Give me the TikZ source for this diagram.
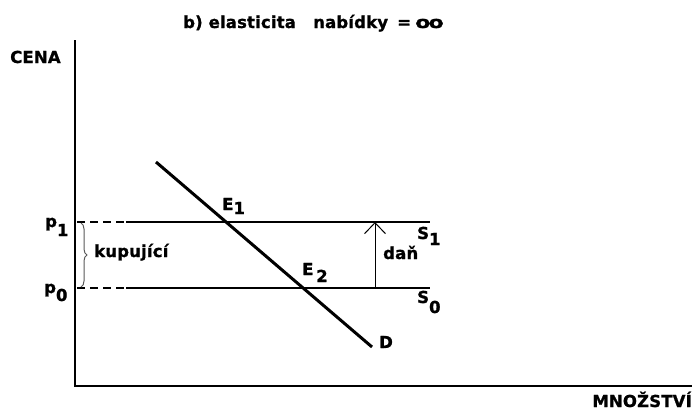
\documentclass[tikz,border=0pt]{standalone}
\usepackage{fontspec}
\setmainfont{DejaVu Sans}
\usetikzlibrary{arrows.meta,decorations.pathreplacing}
\newcommand{\lowr}[2]{\raisebox{-#1pt}{#2}}
\begin{document}
\begin{tikzpicture}[x=1pt,y=-1pt,
  lbl/.style={font=\fontsize{16.5}{18}\selectfont\bfseries\addfontfeature{LetterSpace=1,FakeBold=1}, inner sep=0pt},
  axisline/.style={line width=2.5pt},
  supply/.style={line width=2pt},
  dashpart/.style={line width=2pt, dash pattern=on 8pt off 5pt},
  demand/.style={line width=3pt}]
\fill[white] (0,0) rectangle (696,410);
\useasboundingbox (0,0) rectangle (696,410);
% axes
\coordinate (ytop) at (75,40);
\coordinate (orig) at (75,386);
\coordinate (xend) at (692,386);
\draw[axisline] (ytop) -- (orig) -- (xend);
% supply lines
\coordinate (p1a) at (77,222);
\coordinate (p1b) at (126,222);
\coordinate (s1e) at (430,222);
\coordinate (p0a) at (77,288);
\coordinate (p0b) at (126,288);
\coordinate (s0e) at (430,288);
\draw[dashpart] (p1a) -- (p1b);
\draw[supply] (p1b) -- (s1e);
\draw[dashpart] (p0a) -- (p0b);
\draw[supply] (p0b) -- (s0e);
% demand
\coordinate (dtop) at (156,162);
\coordinate (dbot) at (372,347);
\draw[demand] (dtop) -- (dbot);
% tax arrow
\coordinate (tb) at (375,288);
\coordinate (tt) at (375,222);
\draw[line width=1pt, -{Straight Barb[length=11pt,width=21pt]}] (tb) -- (tt);
% brace
\coordinate (bt) at (81,223);
\coordinate (bb) at (81,287);
\draw[black!65, line width=1pt, decorate, decoration={brace, amplitude=6pt}] (bt) -- (bb);
% labels
\node[lbl, anchor=base west] (title1) at (183,28) {b) elasticita};
\node[lbl, anchor=base west] (title2) at (313,28) {nabídky};
\node[lbl, anchor=base west] (title3) at (397,28) {=};
\node[lbl, anchor=base west] (title4) at (415,28) {\scalebox{1.35}[1]{o\kern-1.5pt o}};
\node[lbl, anchor=base west] (cena) at (10,63) {CENA};
\node[lbl, anchor=base east] (mnoz) at (692,407) {MNOŽSTVÍ};
\node[lbl, anchor=base west] (p1) at (45,227) {p\lowr{9}{1}};
\node[lbl, anchor=base west] (p0) at (44,293) {p\lowr{8}{0}};
\node[lbl, anchor=base west] (kup) at (94,257) {kupující};
\node[lbl, anchor=base west] (e1) at (222,210) {E\lowr{4}{1}};
\node[lbl, anchor=base west] (e2) at (302,275) {E\,\lowr{7}{2}};
\node[lbl, anchor=base west] (dan) at (383,259) {daň};
\node[lbl, anchor=base west] (s1) at (417,239) {S\lowr{6}{1}};
\node[lbl, anchor=base west] (s0) at (417,303) {S\lowr{10}{0}};
\node[lbl, anchor=base west] (dl) at (379,348) {D};
\end{tikzpicture}
\end{document}
